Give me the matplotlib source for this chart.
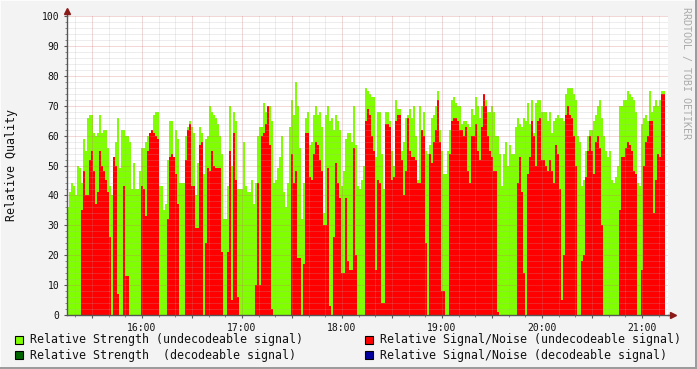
import numpy as np
import pandas as pd
import matplotlib
matplotlib.use('Agg')
import matplotlib.pyplot as plt
import matplotlib.dates as mdates
from matplotlib.patches import Rectangle
from matplotlib.ticker import MultipleLocator, FuncFormatter

# Muestras cada 72 s desde las 15:15
inicio = '2000-01-01 15:15:00'
paso_seg = 72

# Relative Strength (undecodeable signal) - verde
fuerza = [
    36, 41, 44, 43, 40, 50, 49, 44, 59, 55, 66, 67, 67, 61, 60, 61, 67, 61, 62, 62,
    56, 43, 40, 53, 58, 66, 49, 62, 62, 60, 60, 58, 42, 51, 42, 42, 48, 56, 56, 58,
    60, 61, 61, 67, 68, 68, 43, 43, 35, 37, 52,
    65, 65, 53, 62, 59, 44, 44, 44, 60, 63, 65, 63, 61, 40, 51, 63, 61, 47, 59, 60,
    70, 68, 67, 66, 64, 60, 54, 32, 32, 43, 70, 50, 68, 65, 42, 42, 42, 58, 43, 41,
    41, 45, 37, 44, 60, 63, 63, 71, 68, 70,
    70, 65, 44, 45, 49, 53, 60, 41, 36, 44, 63, 72, 67, 78, 70, 56, 32, 44, 66, 68,
    57, 58, 67, 70, 67, 68, 63, 34, 67, 70, 65, 66, 62, 67, 65, 62, 43, 48, 59, 61,
    61, 58, 70, 57, 43, 42, 45, 50, 76, 75,
    74, 73, 73, 53, 68, 68, 54, 42, 68, 68, 65, 55, 50, 72, 69, 69, 55, 58, 66, 67,
    69, 66, 70, 60, 45, 70, 62, 68, 55, 54, 57, 66, 67, 70, 75, 62, 55, 47, 47, 55,
    62, 72, 73, 71, 70, 70, 64, 65, 65, 64,
    63, 69, 67, 73, 70, 66, 70, 74, 72, 68, 68, 70, 68, 60, 60, 54, 43, 54, 58, 50,
    57, 54, 54, 63, 66, 64, 63, 66, 65, 71, 64, 72, 61, 71, 72, 72, 68, 68, 68, 65,
    68, 61, 65, 66, 67, 66, 66, 65, 74, 76,
    76, 76, 74, 72, 60, 58, 43, 45, 55, 60, 62, 62, 65, 67, 70, 72, 66, 60, 55, 53,
    55, 45, 44, 46, 50, 70, 70, 72, 72, 75, 74, 73, 72, 68, 44, 43, 64, 66, 67, 65,
    75, 68, 70, 72, 70, 72, 75, 75,
]

# Relative Signal/Noise (undecodeable signal) - rojo
senal_ruido = [
    0, 0, 0, 0, 0, 0, 0, 35, 48, 40, 40, 52, 55, 48, 37, 41, 55, 50, 48, 45,
    41, 26, 0, 53, 50, 7, 0, 0, 43, 13, 13, 0, 0, 0, 0, 0, 0, 43, 42, 33,
    55, 61, 62, 61, 60, 59, 0, 0, 0, 0, 32,
    53, 54, 53, 47, 37, 0, 0, 0, 52, 62, 64, 43, 43, 29, 29, 57, 58, 0, 24, 49,
    48, 55, 50, 49, 49, 49, 21, 0, 0, 21, 55, 5, 61, 45, 6, 0, 0, 0, 0, 0,
    0, 0, 0, 10, 44, 10, 60, 61, 64, 70,
    57, 2, 0, 0, 0, 0, 0, 0, 0, 0, 0, 54, 44, 48, 19, 19, 0, 17, 61, 61,
    46, 45, 54, 58, 57, 52, 48, 30, 30, 49, 3, 0, 26, 51, 44, 39, 14, 14, 39, 18,
    15, 15, 56, 20, 0, 0, 0, 0, 65, 69,
    67, 60, 55, 15, 45, 44, 4, 4, 64, 64, 63, 45, 46, 65, 67, 67, 52, 40, 48, 66,
    55, 53, 53, 52, 44, 44, 62, 60, 24, 0, 54, 51, 58, 62, 72, 58, 8, 8, 0, 0,
    54, 65, 66, 66, 65, 62, 62, 60, 63, 48,
    44, 60, 60, 64, 55, 52, 63, 74, 70, 60, 55, 53, 48, 48, 1, 0, 0, 0, 0, 0,
    0, 0, 0, 0, 44, 53, 41, 14, 0, 47, 53, 65, 60, 50, 65, 66, 52, 52, 50, 48,
    52, 48, 44, 57, 54, 42, 5, 20, 67, 70,
    67, 66, 60, 50, 0, 0, 18, 20, 46, 55, 60, 55, 47, 58, 60, 56, 30, 0, 0, 0,
    0, 0, 0, 0, 0, 35, 53, 53, 56, 58, 57, 55, 48, 47, 0, 0, 15, 50, 58, 60,
    65, 65, 34, 45, 54, 53, 74, 74,
]

leyenda = [
    ('Relative Strength (undecodeable signal)', '#80FF00'),
    ('Relative Signal/Noise (undecodeable signal)', '#FF0000'),
    ('Relative Strength  (decodeable signal)', '#006600'),
    ('Relative Signal/Noise (decodeable signal)', '#0000A0'),
]

MONO = 'DejaVu Sans Mono'
W, H = 697, 369


def graficar():
    t0 = pd.Timestamp(inicio)
    bordes = pd.date_range(t0, periods=len(fuerza) + 1, freq=f'{paso_seg}s')
    bx = mdates.date2num(bordes.to_pydatetime())

    fig = plt.figure(figsize=(W / 100, H / 100), dpi=100, facecolor='#F3F3F3')
    ax = fig.add_axes([67 / W, 54 / H, 601 / W, 299 / H])
    ax.set_facecolor('white')

    ax.stairs(fuerza, bx, fill=True, color='#80FF00', lw=0, zorder=1)
    ax.stairs(senal_ruido, bx, fill=True, color='#FF0000', lw=0, zorder=2)

    ax.set_xlim(mdates.date2num(t0), mdates.date2num(t0 + pd.Timedelta(seconds=601 * 36)))
    ax.set_ylim(0, 100)

    ax.xaxis.set_major_locator(mdates.MinuteLocator(byminute=[0, 30]))
    ax.xaxis.set_minor_locator(mdates.MinuteLocator(byminute=range(0, 60, 10)))
    ax.xaxis.set_major_formatter(FuncFormatter(
        lambda v, p: mdates.num2date(v).strftime('%H:%M') if mdates.num2date(v).minute == 0 else ''))
    ax.yaxis.set_major_locator(MultipleLocator(10))
    ax.yaxis.set_minor_locator(MultipleLocator(2))

    ax.set_axisbelow(False)
    ax.grid(which='minor', color='#b0b0b0', linestyle=(0, (1, 1)), linewidth=0.72, alpha=0.45, zorder=3)
    ax.grid(which='major', color='#d07070', linestyle=(0, (1, 1)), linewidth=0.72, alpha=0.55, zorder=3)

    for s in ['top', 'right']:
        ax.spines[s].set_visible(False)
    for s in ['left', 'bottom']:
        ax.spines[s].set_color('#555555')
        ax.spines[s].set_linewidth(1.0)
        ax.spines[s].set_zorder(5)

    ax.tick_params(which='major', length=2.5, width=0.8, color='#555555', pad=3,
                   labelsize=7, labelcolor='#111111')
    ax.tick_params(which='minor', length=1.5, width=0.6, color='#777777')
    for lab in ax.get_xticklabels() + ax.get_yticklabels():
        lab.set_family(MONO)

    # flechas de los ejes
    ax.plot([0, 0], [1, 1.02], transform=ax.transAxes, clip_on=False, color='#555555', lw=1)
    ax.plot(0, 1.018, marker='^', ms=4, color='#8B1A1A', transform=ax.transAxes, clip_on=False)
    ax.plot([1, 1.008], [0, 0], transform=ax.transAxes, clip_on=False, color='#555555', lw=1)
    ax.plot(1.0075, 0, marker='>', ms=4, color='#8B1A1A', transform=ax.transAxes, clip_on=False)

    fig.text(12 / W, 1 - 165 / H, 'Relative Quality', rotation=90, family=MONO,
             fontsize=8.4, ha='center', va='center', color='#111111')
    fig.text(686 / W, 1 - 73 / H, 'RRDTOOL / TOBI OETIKER', rotation=270, family=MONO,
             fontsize=7.2, ha='center', va='center', color='#aaaaaa')

    posiciones = [(15, 340), (365, 340), (15, 355), (365, 355)]
    for (texto, color), (px, py) in zip(leyenda, posiciones):
        fig.patches.append(Rectangle((px / W, 1 - (py + 4) / H), 8 / W, 8 / H,
                                     transform=fig.transFigure, facecolor=color,
                                     edgecolor='black', lw=0.8))
        fig.text((px + 15) / W, 1 - py / H, texto, family=MONO, fontsize=8.35,
                 ha='left', va='center', color='#111111')

    # marco en relieve
    fig.patches.append(Rectangle((0, 0), 1, 1, transform=fig.transFigure,
                                 fill=False, edgecolor='#FCFCFC', lw=1.5))
    fig.patches.append(Rectangle((1 - 2 / W, 0), 2 / W, 1, transform=fig.transFigure,
                                 facecolor='#9C9C9C', lw=0))
    fig.patches.append(Rectangle((0, 0), 1, 2 / H, transform=fig.transFigure,
                                 facecolor='#9C9C9C', lw=0))

    fig.savefig('out.png', dpi=100, facecolor=fig.get_facecolor())


if __name__ == "__main__":
    graficar()
